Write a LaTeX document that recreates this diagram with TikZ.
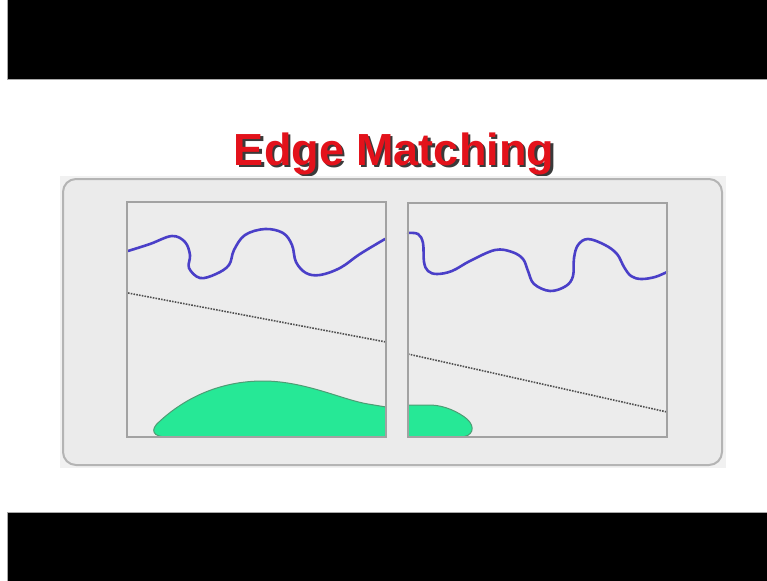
\documentclass[tikz,border=0pt]{standalone}
\usepackage{fontspec}
\setmainfont{Liberation Sans}
\definecolor{titlered}{HTML}{E3121B}
\definecolor{shadowgray}{HTML}{3A3A3A}
\definecolor{panelfill}{HTML}{EBEBEB}
\definecolor{panelline}{HTML}{B4B4B4}
\definecolor{outerfill}{HTML}{F1F1F1}
\definecolor{boxfill}{HTML}{ECECEC}
\definecolor{boxline}{HTML}{A2A2A2}
\definecolor{wavecol}{HTML}{4A3FC8}
\definecolor{blobfill}{HTML}{26E896}
\definecolor{blobline}{HTML}{4E9C74}
\definecolor{dotcol}{HTML}{505050}
\definecolor{barline}{HTML}{A8A8A8}
\tikzset{
  blackbar/.style={fill=black, draw=barline, line width=0.8pt},
  panel/.style={fill=panelfill, draw=panelline, line width=2pt, rounded corners=13pt},
  boxinside/.style={fill=boxfill},
  boxframe/.style={draw=boxline, line width=1.6pt},
  wave/.style={draw=wavecol, line width=2.6pt, line cap=round, line join=round},
  blob/.style={fill=blobfill, draw=blobline, line width=1pt},
  dotline/.style={draw=dotcol, line width=1.6pt, dash pattern=on 1.6pt off 1.2pt},
  titletext/.style={font=\bfseries\fontsize{45}{45}\selectfont, anchor=base, inner sep=0pt}
}
\begin{document}
\begin{tikzpicture}[x=1pt,y=-1pt]
\useasboundingbox (0,0) rectangle (767,580);
\fill[white] (0,0) rectangle (767,580);
% black bars
\draw[blackbar] (7,-2) rectangle (770,79);
\draw[blackbar] (7,512) rectangle (770,582);
% title with drop shadow in one node
\node[titletext, text=titlered] (title) at (394,165)
  {\rlap{\hspace{2.5pt}\raisebox{-2.5pt}{\color{shadowgray}Edge Matching}}Edge Matching};
% panel
\fill[outerfill] (60,176) rectangle (726,468);
\draw[panel] (63,179) rectangle (722,465);
% inner boxes fill
\fill[boxinside] (127,202) rectangle (386,437);
\fill[boxinside] (408,203) rectangle (667,437);
% green blobs
\draw[blob] (167,437) .. controls (153,437) and (149,430) .. (160,421)
  .. controls (185,398) and (220,381) .. (263,381)
  .. controls (305,381) and (343,400) .. (368,404) -- (386,407) -- (386,437) -- cycle;
\draw[blob] (408,405) -- (430,405) .. controls (445,405) and (460,413) .. (467,419)
  .. controls (476,427) and (473,437) .. (460,437) -- (408,437) -- cycle;
% dotted lines
\draw[dotline] (128,293) -- (386,342);
\draw[dotline] (408,354) -- (667,412);
% waves
\draw[wave] plot[smooth, tension=0.6] coordinates {(128,251) (150,244) (172,236) (185,242) (190,255) (189,268) (200,278) (216,274) (229,265) (234,250) (245,235) (265,229) (283,233) (292,245) (296,262) (306,273) (320,275) (340,268) (360,254) (385,239)};
\draw[wave] plot[smooth, tension=0.6] coordinates {(408,233) (418,234) (423,243) (424,262) (428,271) (437,274) (452,271) (470,261) (495,250) (512,252) (523,259) (528,271) (534,284) (550,291) (566,286) (573,276) (574,258) (578,245) (588,239) (605,245) (617,254) (624,267) (631,276) (641,279) (655,277) (667,272)};
% inner box frames
\draw[boxframe] (127,202) rectangle (386,437);
\draw[boxframe] (408,203) rectangle (667,437);
\end{tikzpicture}
\end{document}
